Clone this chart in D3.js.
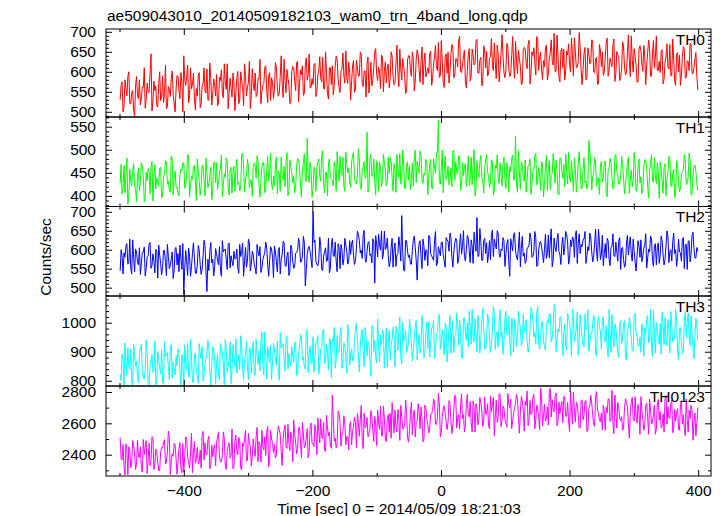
<!DOCTYPE html>
<html><head><meta charset="utf-8">
<script src="https://cdn.jsdelivr.net/npm/d3@7"></script>
<style>
body{margin:0;background:#fff}
svg{display:block}
text{font-family:"Liberation Sans",Arial,Helvetica,sans-serif;fill:#000}
</style>
</head><body>
<svg id="c" width="723" height="516"></svg>
<script>
// ---------- data ----------
const title = "ae509043010_20140509182103_wam0_trn_4band_long.qdp";
const xLabel = "Time [sec] 0 = 2014/05/09 18:21:03";
const yLabel = "Counts/sec";
const seriesNames = ["TH0","TH1","TH2","TH3","TH0123"];
const tStart = -499, tStep = 1.5;   // bin centres in seconds

const th0 = [
530,566,575,500,512,580,560,540,589,600,521,520,548,553,503,488,566,588,541,533,
580,517,534,562,561,610,509,530,572,550,548,594,645,502,527,577,553,564,515,512,
571,600,528,537,590,523,546,617,507,513,563,555,538,583,602,543,522,500,557,590,
589,552,533,598,575,500,640,580,566,590,617,522,541,610,558,568,596,535,505,558,
540,590,598,510,519,564,571,610,552,547,607,530,529,622,583,517,545,582,566,540,
593,515,521,587,578,605,547,535,620,575,556,620,508,545,584,560,537,597,572,503,
549,586,601,520,532,600,579,560,515,620,588,540,561,573,626,508,541,608,570,553,
597,538,544,583,582,631,520,551,568,571,611,615,553,523,589,598,528,585,575,533,
556,623,612,560,539,546,590,640,567,536,631,578,548,606,583,566,520,523,601,613,
609,577,553,623,626,525,570,605,592,615,541,547,617,635,579,593,644,560,561,583,
568,618,621,538,549,592,604,638,583,575,637,558,557,650,596,545,532,610,610,568,
615,542,566,614,639,632,580,562,548,602,607,647,589,572,652,587,571,624,598,530,
575,615,628,549,556,629,611,589,590,649,644,569,563,602,602,537,619,637,547,582,
624,565,579,610,651,658,593,578,612,598,558,642,636,550,601,625,572,612,619,560,
583,650,639,587,568,573,622,667,597,563,657,605,579,633,613,593,546,550,630,640,
640,604,589,650,631,552,577,632,655,642,606,574,624,662,568,620,647,587,598,610,
596,646,651,566,583,620,637,666,612,603,673,586,590,678,628,573,561,638,645,596,
649,572,601,644,668,662,585,592,633,632,612,677,689,602,598,617,640,654,576,560,
603,643,658,577,589,657,642,617,621,677,681,597,597,630,636,565,570,665,652,610,
651,590,594,635,637,683,615,603,672,623,583,667,646,575,609,650,693,637,598,585,
604,671,662,608,588,594,641,688,619,584,676,626,595,654,633,614,568,571,655,661,
657,622,608,668,679,570,596,650,641,660,622,592,688,680,603,638,649,605,581,628,
612,660,667,580,594,634,648,680,627,617,696,600,601,692,640,587,575,652,659,610,
656,580,603,652,642,670,619,600,684,640,590,685,651,610,612,625,698,662,605,568,
606,646,661,580,585,660,645,620,622,680,677,600,598,633,636,568,571,668,654,613,
649,591,598,636,671,684,589,604,634,624,613,668,682,576,596,651,642,638,578,586,
607,675,664,612,592,598,647,692,626,588,690,630,599,658,638,618,574,575,657,665,
653,620,601,666,640,568,617,648,679,658,588,590,647,678,609,636,690,603,603,626,
598,650,655,570,581,624,637,670,612,607,668,590,590,682,630,577,566,642,648,600,
641,566,592,638,663,656,584,586,627,626,603,671,670,596,595,611,632,648,589,554];

const th1 = [
428,468,404,418,466,406,448,482,382,398,458,432,422,454,470,422,414,388,440,460,
411,429,473,465,443,387,399,451,433,459,453,405,463,475,389,441,467,415,439,433,
422,460,462,396,398,440,448,476,474,426,432,412,408,486,482,402,438,454,418,420,
406,400,446,458,454,472,472,416,424,448,490,484,398,424,442,436,464,466,430,390,
480,454,432,402,420,466,466,434,400,482,450,418,426,444,462,392,412,472,474,428,
472,414,430,450,460,488,398,424,448,440,482,476,418,402,456,462,406,452,464,410,
455,479,425,429,411,417,489,493,465,409,439,443,479,465,417,433,435,399,461,471,
465,439,487,475,423,397,437,461,473,469,407,415,457,485,431,451,493,425,413,443,
422,468,484,404,454,448,410,484,444,434,464,420,474,494,400,410,478,462,450,428,
443,407,419,465,481,479,463,423,397,455,473,491,437,431,525,443,429,473,455,397,
414,462,454,410,462,474,480,442,432,490,498,426,406,452,450,400,472,480,438,436,
434,422,474,458,410,496,460,432,486,448,444,484,420,410,494,470,450,460,430,418,
472,488,494,438,430,426,444,502,480,418,414,452,464,474,438,442,538,408,420,480,
490,444,442,480,430,402,476,466,410,474,460,420,436,490,472,456,422,430,484,448,
482,474,440,410,470,454,408,490,458,440,492,426,428,500,466,416,416,468,474,434,
465,413,435,471,421,485,499,429,475,461,449,497,489,437,427,449,445,479,471,403,
439,469,479,417,415,481,465,449,491,497,565,433,425,459,499,407,455,487,435,443,
464,424,434,460,420,498,498,434,474,450,448,486,488,412,426,472,444,462,470,420,
446,486,422,436,484,424,466,500,400,416,476,450,440,472,488,440,432,406,458,478,
490,452,442,418,430,478,476,401,410,466,460,489,436,427,472,447,422,470,484,435,
416,472,456,408,464,452,482,488,434,438,530,424,408,498,452,414,474,466,440,432,
478,408,436,466,466,480,404,424,454,456,488,492,424,432,462,444,412,474,470,398,
426,464,488,412,458,476,414,444,448,492,468,428,478,454,404,402,482,482,454,438,
468,420,490,456,426,494,440,430,476,446,410,482,460,408,434,468,496,458,416,416,
459,483,429,433,415,421,520,497,469,413,443,447,483,469,421,437,439,403,465,475,
430,440,470,476,406,398,456,462,482,470,440,416,416,486,490,452,446,426,426,444,
486,468,438,404,426,448,472,484,406,434,456,420,432,494,468,410,418,462,480,428,
441,405,417,463,479,477,461,421,395,453,471,489,435,429,483,441,427,471,453,395,
474,458,432,406,462,470,400,438,450,486,484,422,420,448,458,396,408,476,466,432,
409,415,449,451,457,489,475,425,427,441,493,477,401,403,445,463,467,453,428,411];

const th2 = [
544,600,584,536,592,580,610,616,562,566,628,552,536,626,580,542,602,594,568,560,
605,535,563,593,593,607,531,551,581,583,615,619,551,559,589,571,539,601,597,525,
612,586,564,534,552,598,598,566,532,614,582,550,558,576,594,524,544,604,606,560,
590,542,612,578,548,616,482,552,598,568,532,604,582,530,556,590,618,580,538,538,
559,611,599,561,535,549,585,625,611,541,490,575,545,597,619,565,575,531,555,603,
590,572,560,608,546,530,624,594,600,602,574,548,614,618,552,584,570,558,596,576,
576,602,552,538,614,582,596,618,530,568,606,554,570,628,618,544,562,596,588,562,
552,536,614,594,584,608,540,552,574,584,594,620,604,560,530,572,608,602,580,526,
610,594,568,542,598,606,536,574,586,622,620,558,556,584,594,532,544,612,602,568,
551,557,591,593,599,631,617,567,569,583,635,619,505,545,587,605,609,595,575,553,
700,619,625,569,561,557,575,633,611,549,545,583,595,605,569,573,631,539,551,611,
630,584,582,620,570,542,616,606,550,614,600,560,576,630,612,596,562,570,624,588,
615,625,585,561,571,605,649,641,625,591,599,577,639,651,577,567,595,619,621,585,
589,565,629,623,512,637,615,581,641,613,599,649,575,589,649,601,605,631,585,555,
568,606,630,554,600,618,556,586,590,634,610,570,690,596,546,544,624,624,596,580,
586,562,562,598,624,636,606,572,520,588,616,624,580,550,628,610,572,600,598,558,
638,634,590,584,578,572,624,648,558,564,608,598,584,620,620,588,570,554,632,626,
622,596,644,632,580,554,594,618,630,626,564,572,614,642,588,608,650,582,570,600,
638,630,596,566,626,610,564,646,614,596,685,582,584,656,622,572,572,624,630,590,
618,566,588,624,574,638,652,582,628,614,602,650,642,590,580,602,598,632,624,556,
587,617,627,565,530,629,613,597,639,645,597,581,573,607,647,555,603,635,583,591,
564,570,604,606,612,644,630,580,582,596,648,632,556,558,600,618,622,608,588,566,
601,641,577,591,639,579,621,655,555,571,631,605,595,627,643,595,587,561,613,633,
586,604,648,640,618,562,574,626,608,634,628,580,638,650,564,616,642,590,614,608,
626,628,648,564,584,608,598,644,634,594,568,580,618,654,592,570,654,622,574,588,
638,558,590,616,578,630,624,574,558,606,608,642,584,582,620,594,570,624,632,548,
604,606,574,554,560,618,638,586,614,634,588,570,628,596,566,544,584,624,610,580,
626,568,584,604,614,642,552,578,602,594,636,630,572,556,610,616,560,606,618,564,
584,636,624,586,560,574,610,650,636,566,594,600,570,622,644,590,600,556,580,628,
594,592,570,628,632,550,614,614,548,622,624,568,588,638,646,604,578,578,606,596];

const th3 = [
822,801,892,864,785,930,868,818,913,846,840,910,798,785,927,885,850,868,815,794,
887,915,926,828,814,806,838,940,901,792,786,852,873,890,828,834,936,786,796,901,
876,845,823,907,799,788,935,883,893,897,848,803,918,925,809,865,841,820,887,851,
910,896,837,784,890,862,784,924,868,837,928,812,816,942,882,795,795,886,896,826,
820,792,928,894,876,918,799,820,858,876,894,939,911,834,785,855,918,908,869,790,
861,892,819,802,928,914,896,858,786,942,914,830,850,875,934,790,836,924,882,847,
945,826,861,889,840,955,921,843,805,871,893,935,851,805,913,910,826,893,935,819,
820,943,890,856,904,834,936,968,852,820,968,880,806,918,884,862,922,803,862,929,
906,875,853,937,829,801,965,913,923,927,878,833,948,955,839,895,871,850,917,881,
864,930,934,818,822,896,910,958,955,871,882,846,840,976,969,829,892,920,857,860,
952,830,879,932,932,956,823,858,910,914,970,977,858,872,924,893,837,946,938,812,
945,934,984,844,872,956,896,900,959,984,844,872,931,917,886,826,994,966,854,889,
911,869,869,932,978,998,946,886,830,914,964,978,900,848,984,953,886,936,932,862,
815,988,991,901,939,879,862,1013,921,865,957,925,974,963,845,907,981,848,932,974,
872,922,942,984,956,848,988,960,904,974,1020,880,858,1002,936,942,974,897,914,928,
1012,980,928,868,907,946,988,1008,872,921,960,896,918,1026,980,879,893,970,1002,910,
1004,882,931,984,984,1008,875,910,962,966,1022,1029,910,924,976,945,889,998,990,864,
918,984,1026,894,974,1006,897,950,956,1034,992,922,1009,967,880,876,1016,1016,967,939,
1000,916,1039,979,927,1045,951,933,1014,961,899,1025,986,895,941,1000,1049,983,909,909,
940,1031,1010,944,898,922,986,1056,1031,908,958,968,916,1006,1045,950,968,891,933,1017,
1040,960,956,1022,935,886,1016,998,900,1012,988,918,946,1040,1008,980,921,935,1030,966,
993,1010,940,898,916,976,1052,1038,1010,951,965,926,1035,1056,926,909,958,1000,1004,940,
915,905,985,1007,999,1031,1031,933,947,989,1063,1052,901,947,979,968,1017,1021,957,887,
965,996,923,906,1032,1018,1000,962,884,1046,1018,934,954,979,1038,888,940,1028,986,951,
923,916,1031,979,979,1045,902,933,961,961,997,1025,1014,895,885,1000,1021,983,972,909,
1010,1021,937,934,990,912,881,1046,968,898,1028,958,916,996,982,940,895,881,996,1007,
927,945,997,1007,885,871,973,983,1018,997,945,903,903,1025,1032,965,955,920,920,951,
898,996,968,884,982,962,1014,1024,930,937,1046,912,884,1042,962,895,1000,986,940,926,
997,892,1036,994,924,1018,948,920,1011,976,896,1039,983,934,938,955,1046,1008,906,874,
981,984,928,894,904,1006,1040,950,998,1034,953,922,1023,967,914,876,952,1016,987,939];

const th0123 = [
2510,2375,2366,2465,2330,2270,2468,2430,2272,2450,2420,2315,2348,2490,2456,2405,2306,2340,2492,2385,
2383,2450,2311,2290,2497,2400,2443,2490,2280,2365,2473,2330,2365,2515,2509,2305,2341,2435,2419,2350,
2298,2300,2418,2445,2442,2480,2496,2340,2352,2420,2550,2510,2274,2360,2406,2390,2472,2465,2370,2275,
2357,2440,2477,2310,2285,2470,2290,2390,2513,2510,2387,2350,2315,2415,2537,2285,2405,2485,2345,2375,
2446,2340,2356,2430,2314,2525,2548,2365,2476,2405,2398,2495,2518,2310,2332,2460,2386,2435,2464,2330,
2480,2510,2546,2385,2354,2355,2396,2545,2504,2335,2306,2420,2456,2475,2378,2395,2564,2310,2324,2490,
2525,2420,2399,2510,2489,2315,2303,2475,2453,2495,2555,2360,2363,2535,2477,2450,2327,2385,2501,2430,
2388,2515,2574,2355,2484,2465,2352,2555,2454,2430,2514,2395,2544,2580,2322,2370,2556,2500,2472,2415,
2468,2380,2396,2525,2582,2560,2528,2420,2330,2500,2558,2590,2450,2440,2594,2470,2426,2545,2504,2355,
2620,2535,2476,2405,2440,2565,2578,2485,2380,2605,2530,2445,2458,2510,2566,2380,2416,2580,2602,2470,
2472,2450,2592,2540,2400,2635,2550,2475,2628,2515,2502,2605,2430,2420,2652,2570,2520,2545,2460,2440,
2780,2630,2486,2505,2444,2475,2678,2665,2606,2455,2528,2540,2648,2595,2462,2515,2516,2430,2594,2610,
2463,2550,2583,2640,2607,2445,2661,2605,2517,2625,2715,2490,2439,2665,2571,2580,2637,2515,2535,2560,
2680,2645,2554,2485,2644,2595,2458,2685,2608,2560,2710,2525,2518,2710,2632,2500,2482,2630,2656,2545,
2665,2505,2731,2650,2539,2685,2581,2545,2689,2625,2491,2715,2641,2565,2563,2595,2749,2670,2509,2480,
2548,2655,2734,2525,2644,2685,2512,2605,2614,2725,2674,2565,2704,2630,2482,2500,2716,2700,2632,2590,
2538,2570,2658,2660,2682,2755,2736,2595,2592,2635,2790,2725,2514,2540,2646,2690,2712,2665,2610,2560,
2607,2745,2727,2620,2535,2590,2685,2780,2763,2570,2637,2655,2565,2710,2787,2630,2655,2545,2595,2725,
2785,2650,2641,2740,2605,2545,2743,2705,2545,2725,2695,2590,2623,2765,2731,2680,2581,2615,2767,2660,
2658,2725,2586,2565,2772,2675,2718,2765,2520,2640,2748,2605,2640,2790,2784,2580,2616,2710,2694,2625,
2603,2575,2789,2720,2699,2755,2567,2615,2669,2695,2729,2785,2759,2635,2537,2665,2771,2740,2687,2550,
2740,2715,2806,2585,2614,2745,2656,2665,2764,2785,2566,2625,2716,2690,2638,2560,2824,2760,2584,2650,
2721,2615,2631,2705,2589,2800,2823,2640,2751,2680,2673,2770,2793,2585,2607,2735,2661,2710,2739,2605,
2770,2770,2644,2645,2734,2615,2548,2805,2698,2595,2800,2680,2608,2735,2722,2655,2572,2570,2746,2750,
2622,2655,2742,2745,2550,2550,2700,2710,2778,2730,2652,2595,2580,2770,2802,2685,2670,2620,2610,2665,
2558,2715,2678,2555,2702,2665,2756,2755,2612,2630,2810,2595,2534,2780,2666,2570,2732,2700,2630,2615,
2643,2555,2571,2700,2757,2735,2703,2595,2505,2675,2733,2765,2625,2615,2769,2645,2601,2720,2679,2530,
2770,2685,2626,2555,2590,2715,2728,2635,2530,2755,2680,2595,2608,2660,2716,2530,2566,2730,2752,2620,
2676,2570,2586,2660,2544,2755,2778,2595,2706,2635,2628,2725,2748,2540,2562,2690,2616,2665,2694,2560,
2558,2720,2744,2595,2654,2565,2522,2755,2624,2545,2684,2630,2714,2685,2492,2605,2666,2520,2598,2700];

const xDomain = [-521, 420];
const xMajorTicks = [-400, -200, 0, 200, 400];
const xMinorTicks = [-500, -300, -100, 100, 300];
const yDomains = [[487,707],[377,571],[478,714],[782,1092],[2264,2838]];
const yMajorTicks = [[500,550,600,650,700],[400,450,500,550],[500,550,600,650,700],[800,900,1000],[2400,2600,2800]];
const yMinorSteps = [10,10,10,20,100];

// ---------- layout / style ----------
const colors = ["#ff0000","#00ff00","#0000ff","#00ffff","#ff00ff"];
const left = 106, right = 711;
const edges = [29, 117, 206.5, 296, 386, 476];
const fontSize = 15.5;
const seriesValues = [th0, th1, th2, th3, th0123];
const fmt = d3.format("d");

const svg = d3.select("#c");
const x = d3.scaleLinear().domain(xDomain).range([left, right]);

svg.append("text").attr("x", 107).attr("y", 20.5)
  .style("font-size", fontSize + "px").text(title);

const styleAxis = sel => {
  sel.select(".domain").remove();
  sel.selectAll("line").attr("stroke", "#000").attr("stroke-width", 1);
  sel.selectAll("text").style("font-size", fontSize + "px")
    .style("font-family", '"Liberation Sans",Arial,Helvetica,sans-serif');
};

seriesValues.forEach((vals, i) => {
  const top = edges[i], bot = edges[i + 1];
  const y = d3.scaleLinear().domain(yDomains[i]).range([bot, top]);
  const g = svg.append("g");
  const clipId = "clip" + i;
  svg.append("clipPath").attr("id", clipId).append("rect")
    .attr("x", left).attr("y", top).attr("width", right - left).attr("height", bot - top);

  const pts = vals.map((v, j) => [tStart + j * tStep, v]);
  const line = d3.line().x(d => x(d[0])).y(d => y(d[1]));
  g.append("path").datum(pts).attr("clip-path", `url(#${clipId})`)
    .attr("d", line).attr("fill", "none").attr("stroke", colors[i])
    .attr("stroke-width", 1);

  const [lo, hi] = yDomains[i];
  const st = yMinorSteps[i];
  const minors = d3.range(Math.ceil(lo / st) * st, hi + 0.001, st)
    .filter(v => !yMajorTicks[i].includes(v));

  g.append("g").attr("transform", `translate(${left},0)`)
    .call(d3.axisLeft(y).tickValues(yMajorTicks[i]).tickSize(-6).tickPadding(10).tickFormat(fmt))
    .call(styleAxis);
  g.append("g").attr("transform", `translate(${left},0)`)
    .call(d3.axisLeft(y).tickValues(minors).tickSize(-3).tickFormat(""))
    .call(styleAxis);
  g.append("g").attr("transform", `translate(${right},0)`)
    .call(d3.axisRight(y).tickValues(yMajorTicks[i]).tickSize(-6).tickFormat(""))
    .call(styleAxis);
  g.append("g").attr("transform", `translate(${right},0)`)
    .call(d3.axisRight(y).tickValues(minors).tickSize(-3).tickFormat(""))
    .call(styleAxis);
  g.append("g").attr("transform", `translate(0,${top})`)
    .call(d3.axisTop(x).tickValues(xMajorTicks).tickSize(-6).tickFormat(""))
    .call(styleAxis);
  g.append("g").attr("transform", `translate(0,${top})`)
    .call(d3.axisTop(x).tickValues(xMinorTicks).tickSize(-3).tickFormat(""))
    .call(styleAxis);
  const isLast = i === seriesValues.length - 1;
  g.append("g").attr("transform", `translate(0,${bot})`)
    .call(d3.axisBottom(x).tickValues(xMajorTicks).tickSize(-6).tickPadding(8.5)
      .tickFormat(isLast ? fmt : ""))
    .call(styleAxis);
  g.append("g").attr("transform", `translate(0,${bot})`)
    .call(d3.axisBottom(x).tickValues(xMinorTicks).tickSize(-3).tickFormat(""))
    .call(styleAxis);

  g.append("rect").attr("x", left).attr("y", top)
    .attr("width", right - left).attr("height", bot - top)
    .attr("fill", "none").attr("stroke", "#000").attr("stroke-width", 1);

  g.append("text").attr("x", 705).attr("y", top + 15.5)
    .attr("text-anchor", "end").style("font-size", fontSize + "px")
    .text(seriesNames[i]);
});

svg.append("text").attr("x", 399).attr("y", 513.5).attr("text-anchor", "middle")
  .style("font-size", fontSize + "px").text(xLabel);
svg.append("text").attr("transform", "translate(50.5,257) rotate(-90)")
  .attr("text-anchor", "middle").style("font-size", fontSize + "px").text(yLabel);
</script>
</body></html>
